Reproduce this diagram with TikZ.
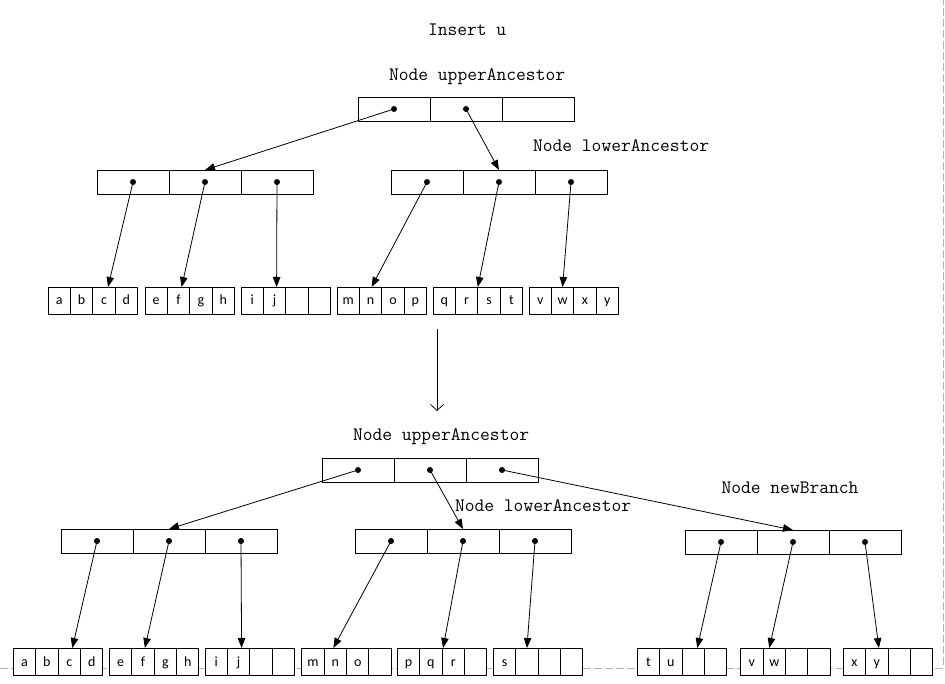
\documentclass[tikz,border=0pt]{standalone}
\usepackage{fontspec}
\setsansfont{Carlito}
\usetikzlibrary{arrows.meta,calc}

% three-slot index node: name, left x, top y
\newcommand\keyrow[3]{%
  \node[keycell] (#1a) at (#2,#3) {};
  \node[keycell] (#1b) at (#1a.north east) {};
  \node[keycell] (#1c) at (#1b.north east) {};}
% pointer dot in a slot: node name, slot letter
\newcommand\slotdot[2]{\node[ptrdot] (#1#2p) at (#1#2.center) {};}
% four-slot leaf: name, left x, top y, four entries
\newcommand\leafrow[7]{%
  \node[leafcell] (#1a) at (#2,#3) {#4};
  \node[leafcell] (#1b) at (#1a.north east) {#5};
  \node[leafcell] (#1c) at (#1b.north east) {#6};
  \node[leafcell] (#1d) at (#1c.north east) {#7};}

\begin{document}
\begin{tikzpicture}[x=1pt,y=-1pt,
  every node/.style={inner sep=0pt, outer sep=0pt},
  keycell/.style={draw, line width=0.9pt, fill=white, minimum width=72pt,
    minimum height=24pt, anchor=north west},
  leafcell/.style={draw, line width=0.9pt, fill=white, minimum width=22.4pt,
    minimum height=27pt, anchor=north west, text height=11pt, text depth=2pt,
    font=\sffamily\fontsize{14}{14}\selectfont},
  headtext/.style={anchor=base west, font=\ttfamily\fontsize{19}{19}\selectfont},
  ptrdot/.style={circle, fill=black, minimum size=6pt},
  ptr/.style={line width=0.8pt, -{Triangle[length=10pt,width=7.5pt]}},
  pageedge/.style={draw=black!30, line width=1pt, dash pattern=on 8pt off 3pt}
]
\useasboundingbox (0,0) rectangle (945,684);

% page border
\coordinate (pgA) at (0,668);
\coordinate (pgB) at (943.3,668);
\coordinate (pgC) at (943.3,0);
\draw[pageedge] (pgA) -- (pgB) -- (pgC);

% ---------- before insertion ----------
\node[headtext] (tIns) at (428,36) {Insert u};
\node[headtext] (tUp1) at (389,80.5) {Node upperAncestor};
\node[headtext] (tLo1) at (533,151.5) {Node lowerAncestor};

\keyrow{R}{358}{97}
\keyrow{P}{97}{170}
\keyrow{Q}{391}{170}

\leafrow{A}{48}{287}{a}{b}{c}{d}
\leafrow{B}{145}{287}{e}{f}{g}{h}
\leafrow{C}{241}{287}{i}{j}{}{}
\leafrow{D}{337}{287}{m}{n}{o}{p}
\leafrow{E}{433}{287}{q}{r}{s}{t}
\leafrow{F}{529}{287}{v}{w}{x}{y}

\slotdot{R}{a}\slotdot{R}{b}
\slotdot{P}{a}\slotdot{P}{b}\slotdot{P}{c}
\slotdot{Q}{a}\slotdot{Q}{b}\slotdot{Q}{c}

\draw[ptr] (Rap.center) -- (Pb.north);
\draw[ptr] (Rbp.center) -- (Qb.north);
\draw[ptr] (Pap.center) -- ($(Ac.north)+(4,0)$);
\draw[ptr] (Pbp.center) -- ($(Bb.north)+(3,0)$);
\draw[ptr] (Pcp.center) -- ($(Cb.north)+(2,0)$);
\draw[ptr] (Qap.center) -- ($(Db.north)+(1,0)$);
\draw[ptr] (Qbp.center) -- (Eb.north east);
\draw[ptr] (Qcp.center) -- (Fb.north);

% transition
\coordinate (trA) at (437,329);
\coordinate (trB) at (437,411);
\draw[line width=0.8pt, -{Straight Barb[length=6pt,width=13pt]}] (trA) -- (trB);

% ---------- after insertion ----------
\node[headtext] (tUp2) at (353,440.5) {Node upperAncestor};
\node[headtext] (tLo2) at (455,511.5) {Node lowerAncestor};
\node[headtext] (tNew) at (721.5,493) {Node newBranch};

\keyrow{S}{322}{458}
\keyrow{T}{61}{529}
\keyrow{U}{355}{529}
\keyrow{V}{685}{530}

\leafrow{G}{13.3}{648}{a}{b}{c}{d}
\leafrow{H}{109.3}{648}{e}{f}{g}{h}
\leafrow{I}{205}{648}{i}{j}{}{}
\leafrow{J}{301.7}{648}{m}{n}{o}{}
\leafrow{K}{397.3}{648}{p}{q}{r}{}
\leafrow{L}{493.3}{648}{s}{}{}{}
\leafrow{M}{637.3}{648}{t}{u}{}{}
\leafrow{N}{740.7}{648}{v}{w}{}{}
\leafrow{O}{843.3}{648}{x}{y}{}{}

\slotdot{S}{a}\slotdot{S}{b}\slotdot{S}{c}
\slotdot{T}{a}\slotdot{T}{b}\slotdot{T}{c}
\slotdot{U}{a}\slotdot{U}{b}\slotdot{U}{c}
\slotdot{V}{a}\slotdot{V}{b}\slotdot{V}{c}

\draw[ptr] (Sap.center) -- (Tb.north);
\draw[ptr] (Sbp.center) -- (Ub.north);
\draw[ptr] (Scp.center) -- (Vb.north);
\draw[ptr] (Tap.center) -- ($(Gc.north)+(3,0)$);
\draw[ptr] (Tbp.center) -- ($(Hb.north)+(2,0)$);
\draw[ptr] (Tcp.center) -- ($(Ib.north)+(3,0)$);
\draw[ptr] (Uap.center) -- ($(Jb.north)+(-2,0)$);
\draw[ptr] (Ubp.center) -- ($(Kb.north east)+(1,0)$);
\draw[ptr] (Ucp.center) -- (Lb.north);
\draw[ptr] (Vap.center) -- ($(Mc.north)+(4,0)$);
\draw[ptr] (Vbp.center) -- ($(Nb.north)+(-5,0)$);
\draw[ptr] (Vcp.center) -- ($(Ob.north)+(2,0)$);
\end{tikzpicture}
\end{document}
